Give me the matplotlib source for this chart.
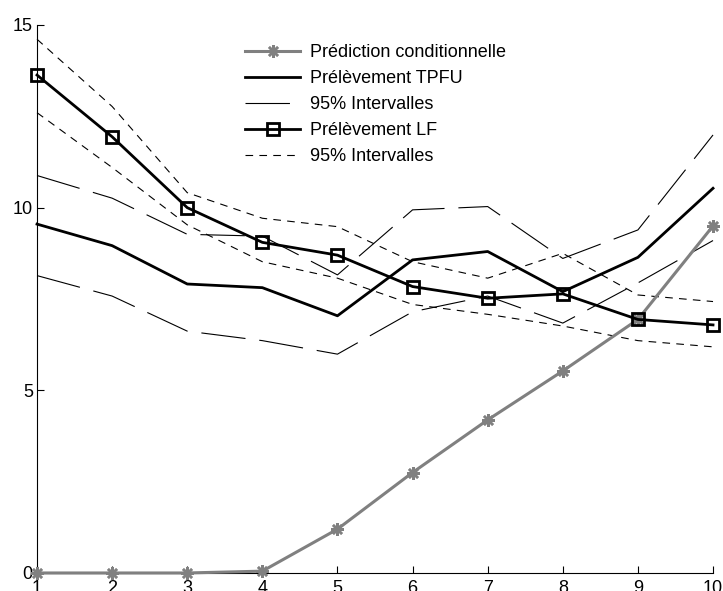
import matplotlib
matplotlib.use("Agg")
import matplotlib.pyplot as plt

plt.rcParams['font.family'] = ['Liberation Sans', 'DejaVu Sans']
plt.rcParams['lines.scale_dashes'] = False

periods = [1, 2, 3, 4, 5, 6, 7, 8, 9, 10]

prediction = [0.0, 0.0, 0.0, 0.05, 1.20, 2.75, 4.19, 5.53, 6.94, 9.50]

tpfu = [9.55, 8.96, 7.91, 7.81, 7.04, 8.57, 8.80, 7.70, 8.64, 10.53]
tpfu_upper = [10.88, 10.26, 9.27, 9.22, 8.16, 9.94, 10.03, 8.61, 9.39, 11.99]
tpfu_lower = [8.14, 7.58, 6.62, 6.36, 5.99, 7.15, 7.58, 6.84, 7.94, 9.10]

lf = [13.63, 11.94, 10.00, 9.05, 8.70, 7.84, 7.52, 7.64, 6.94, 6.79]
lf_upper = [14.61, 12.77, 10.41, 9.71, 9.48, 8.52, 8.07, 8.75, 7.61, 7.43]
lf_lower = [12.60, 11.10, 9.53, 8.52, 8.07, 7.35, 7.08, 6.76, 6.36, 6.19]

labels = ["Prédiction conditionnelle", "Prélèvement TPFU", "95% Intervalles",
          "Prélèvement LF", "95% Intervalles"]

fig = plt.figure(figsize=(7.23, 5.91), dpi=100)
ax = fig.add_axes([0.0512, 0.0305, 0.9350, 0.9272])

gray = '#808080'
long_dash = (32, 10)
short_dash = (5.5, 4.5)

ax.plot(periods, prediction, color=gray, lw=2.2, marker=(8, 2, 0), ms=9,
        mew=1.8, mec=gray, label=labels[0], clip_on=False, zorder=3)
ax.plot(periods, tpfu, color='black', lw=2.0, label=labels[1], clip_on=False, zorder=3)
ax.plot(periods, tpfu_upper, color='black', lw=0.8, dashes=long_dash,
        label=labels[2], clip_on=False, zorder=2)
ax.plot(periods, tpfu_lower, color='black', lw=0.8, dashes=long_dash,
        clip_on=False, zorder=2)
ax.plot(periods, lf, color='black', lw=2.0, marker='s', ms=9, mew=2.0,
        mfc='none', mec='black', label=labels[3], clip_on=False, zorder=4)
ax.plot(periods, lf_upper, color='black', lw=0.8, dashes=short_dash,
        label=labels[4], clip_on=False, zorder=2)
ax.plot(periods, lf_lower, color='black', lw=0.8, dashes=short_dash,
        clip_on=False, zorder=2)

ax.set_xlim(1, 10)
ax.set_ylim(0, 15)
ax.set_xticks(periods)
ax.set_yticks([0, 5, 10, 15])
ax.spines['top'].set_visible(False)
ax.spines['right'].set_visible(False)
for s in ('left', 'bottom'):
    ax.spines[s].set_linewidth(0.8)
ax.tick_params(direction='in', length=5, width=0.8, labelsize=13)
ax.tick_params(axis='x', pad=4.7)
ax.tick_params(axis='y', pad=3)

leg = ax.legend(loc='upper left', bbox_to_anchor=(0.297, 0.978), frameon=False,
                fontsize=13, handlelength=3.05, labelspacing=0.50,
                handletextpad=0.55, borderaxespad=0)

fig.savefig('out.png', dpi=100)
